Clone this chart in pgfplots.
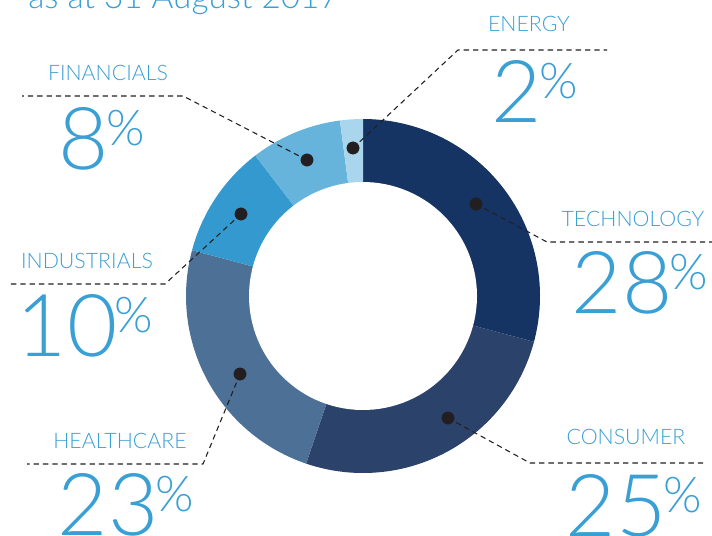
\documentclass[border=0pt]{standalone}
\usepackage{pgfplots}
\pgfplotsset{compat=1.18}
\usepackage{fontspec}
\setmainfont{Lato Light}
\definecolor{cTech}{HTML}{163463}
\definecolor{cCons}{HTML}{2B426B}
\definecolor{cHealth}{HTML}{4D7096}
\definecolor{cInd}{HTML}{3399CF}
\definecolor{cFin}{HTML}{66B3DC}
\definecolor{cEn}{HTML}{A9D6EC}
\definecolor{txt}{HTML}{3A9FD5}
\definecolor{ink}{HTML}{231F20}
% cumulative shares (total 96): start, end
\newcommand\slice[3]{%
  \addplot[fill=#3, draw=none, domain={90-#2*3.75}:{90-#1*3.75}, samples=90, variable=\t]
    ({363+177*cos(\t)},{296-177*sin(\t)}) -- (363,296) -- cycle;}
\newcommand\pct[3]{\node[anchor=base, text=txt, inner sep=0pt] at (#1,#2)
  {\fontsize{65}{65}\selectfont #3\kern-0.03em\raisebox{0.27em}{\fontsize{37}{37}\selectfont\%}};}
\newcommand\lab[3]{\node[anchor=base, text=txt, inner sep=0pt] at (#1,#2)
  {\fontsize{16}{16}\selectfont #3};}
\begin{document}
\begin{tikzpicture}
\begin{axis}[
  hide axis, scale only axis, width=534pt, height=401.25pt,
  xmin=0, xmax=712, ymin=0, ymax=535, y dir=reverse, clip=false]
% shares in percent: Technology 28, Consumer 25, Healthcare 23, Industrials 10, Financials 8, Energy 2
\slice{0}{28}{cTech}
\slice{28}{53}{cCons}
\slice{53}{76}{cHealth}
\slice{76}{86}{cInd}
\slice{86}{94}{cFin}
\slice{94}{96}{cEn}
\addplot[fill=white, draw=none, domain=0:360, samples=120, variable=\t]
  ({363+114*cos(\t)},{296-114*sin(\t)}) -- cycle;
% leader lines
\addplot[ink, line width=0.8pt, dash pattern=on 4pt off 3pt] coordinates {(353,148) (458,50) (607,50)};
\addplot[ink, line width=0.8pt, dash pattern=on 4pt off 3pt] coordinates {(307,160) (183,96) (22,96)};
\addplot[ink, line width=0.8pt, dash pattern=on 4pt off 3pt] coordinates {(476,204) (547,242) (712,242)};
\addplot[ink, line width=0.8pt, dash pattern=on 4pt off 3pt] coordinates {(241,214) (165,284) (10,284)};
\addplot[ink, line width=0.8pt, dash pattern=on 4pt off 3pt] coordinates {(240,374) (203,464) (27,464)};
\addplot[ink, line width=0.8pt, dash pattern=on 4pt off 3pt] coordinates {(448,418) (530,463) (706,463)};
\addplot[only marks, mark=*, mark size=4.6pt, mark options={fill=ink, draw=ink}] coordinates
  {(353,148) (307,160) (476,204) (241,214) (240,374) (448,418)};
% labels
\node[anchor=base west, text=txt, inner sep=0pt] at (28,9) {\fontsize{25}{25}\selectfont as at 31 August 2017};
\lab{529}{32}{ENERGY}
\lab{108}{80}{FINANCIALS}
\lab{633}{226}{TECHNOLOGY}
\lab{87}{268}{INDUSTRIALS}
\lab{120}{448}{HEALTHCARE}
\lab{626}{444}{CONSUMER}
\pct{535}{122}{2}
\pct{102}{169}{8}
\pct{640}{313}{28}
\pct{85}{356}{10}
\pct{126}{535}{23}
\pct{634}{536}{25}
\end{axis}
\pgfresetboundingbox
\useasboundingbox (current axis.south west) rectangle (current axis.north east);
\end{tikzpicture}
\end{document}
